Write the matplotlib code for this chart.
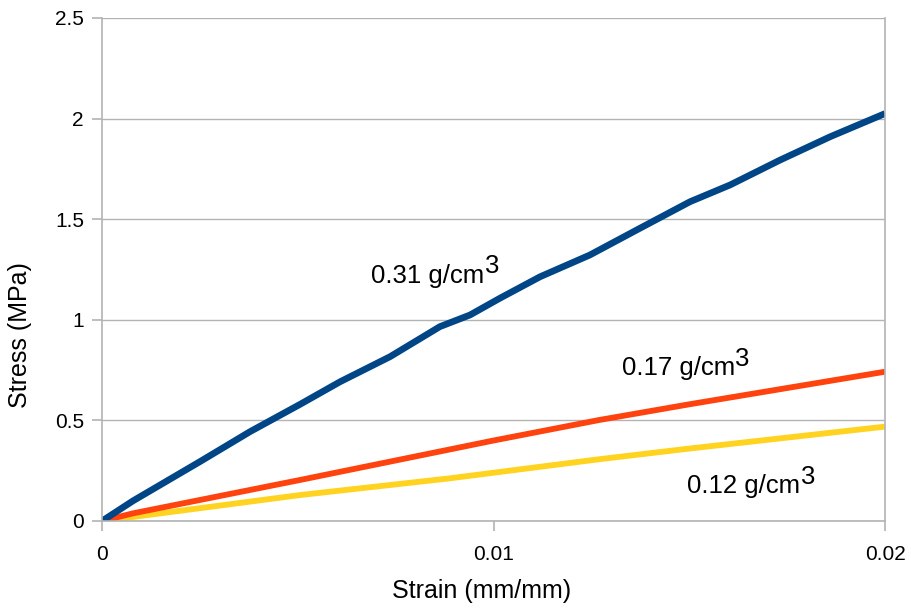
import matplotlib.pyplot as plt

plt.rcParams['font.family'] = ['Liberation Sans', 'DejaVu Sans']

# strain (mm/mm) and stress (MPa) for each foam density
strain_031 = [0, 0.00079, 0.0025, 0.00378, 0.00506, 0.00608, 0.00736, 0.00863,
              0.0094, 0.01017, 0.01119, 0.01246, 0.01374, 0.01502, 0.01604,
              0.01732, 0.0186, 0.02]
stress_031 = [0, 0.10, 0.295, 0.444, 0.58, 0.692, 0.817, 0.966,
              1.024, 1.108, 1.214, 1.322, 1.455, 1.587, 1.670,
              1.794, 1.91, 2.025]

strain_017 = [0, 0.00079, 0.00506, 0.01, 0.0127, 0.015, 0.02]
stress_017 = [0, 0.038, 0.204, 0.40, 0.502, 0.58, 0.742]

strain_012 = [0, 0.00506, 0.00888, 0.0127, 0.015, 0.02]
stress_012 = [0, 0.129, 0.212, 0.307, 0.36, 0.469]

labels = ['0.31 g/cm', '0.17 g/cm', '0.12 g/cm']
label_pos = [(0.00687, 1.184), (0.01327, 0.7256), (0.01495, 0.1375)]

fig = plt.figure(figsize=(9.11, 6.12), dpi=100)
ax = fig.add_axes([0.112, 0.1487, 0.8595, 0.8219])

ax.plot(strain_012, stress_012, color='#ffd320', lw=4.2, solid_capstyle='butt')
ax.plot(strain_017, stress_017, color='#ff420e', lw=4.2, solid_capstyle='butt')
ax.plot(strain_031, stress_031, color='#004586', lw=4.8, solid_capstyle='butt')

# curve labels, with a raised "3" for cm^3
for lab, (lx, ly) in zip(labels, label_pos):
    t = ax.text(lx, ly, lab, fontsize=18.5, ha='left', va='baseline')
    ax.annotate('3', xy=(1, 0), xycoords=t, xytext=(0.5, 6.8),
                textcoords='offset points', fontsize=18.5, ha='left', va='bottom')

ax.set_xlim(0, 0.02)
ax.set_ylim(0, 2.5)
ax.set_xticks([0, 0.01, 0.02])
ax.set_xticklabels(['0', '0.01', '0.02'])
ax.set_yticks([0, 0.5, 1, 1.5, 2, 2.5])
ax.set_yticklabels(['0', '0.5', '1', '1.5', '2', '2.5'])

ax.set_xlabel('Strain (mm/mm)', fontsize=18, va='center')
ax.set_ylabel('Stress (MPa)', fontsize=18, va='center')
ax.xaxis.set_label_coords(0.485, -0.139)
ax.yaxis.set_label_coords(-0.105, 0.37)

grid_c = '#b3b3b3'
ax.yaxis.grid(True, color=grid_c, lw=1.0)
ax.set_axisbelow(True)
ax.spines['top'].set_visible(False)
for s in ['left', 'right', 'bottom']:
    ax.spines[s].set_color(grid_c)
    ax.spines[s].set_linewidth(1.2)
ax.tick_params(axis='both', colors=grid_c, labelcolor='black', labelsize=15,
               length=7, width=1.2, pad=6)
ax.tick_params(axis='x', pad=10)

fig.savefig('out.png', dpi=100)
